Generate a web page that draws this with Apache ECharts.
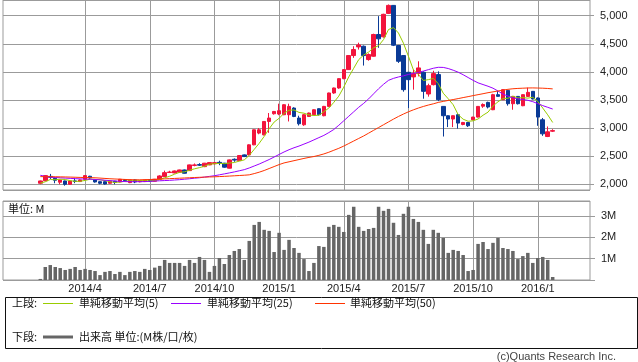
<!DOCTYPE html>
<html>
<head>
<meta charset="utf-8">
<script src="https://cdn.jsdelivr.net/npm/echarts@6/dist/echarts.min.js"></script>
<style>
html,body{margin:0;padding:0;background:#fff;}
#c{width:638px;height:362px;}
</style>
</head>
<body>
<div id="c"></div>
<script>
// weekly categories (Monday of each week)
const padBefore = ['2013-12-09','2013-12-16','2013-12-23','2013-12-30','2014-01-06','2014-01-13','2014-01-20'];
const weeks = [
'2014-01-27','2014-02-03','2014-02-10','2014-02-17','2014-02-24','2014-03-03','2014-03-10','2014-03-17','2014-03-24','2014-03-31',
'2014-04-07','2014-04-14','2014-04-21','2014-04-28','2014-05-05','2014-05-12','2014-05-19','2014-05-26','2014-06-02','2014-06-09',
'2014-06-16','2014-06-23','2014-06-30','2014-07-07','2014-07-14','2014-07-21','2014-07-28','2014-08-04','2014-08-11','2014-08-18',
'2014-08-25','2014-09-01','2014-09-08','2014-09-15','2014-09-22','2014-09-29','2014-10-06','2014-10-13','2014-10-20','2014-10-27',
'2014-11-03','2014-11-10','2014-11-17','2014-11-24','2014-12-01','2014-12-08','2014-12-15','2014-12-22','2014-12-29','2015-01-05',
'2015-01-12','2015-01-19','2015-01-26','2015-02-02','2015-02-09','2015-02-16','2015-02-23','2015-03-02','2015-03-09','2015-03-16',
'2015-03-23','2015-03-30','2015-04-06','2015-04-13','2015-04-20','2015-04-27','2015-05-04','2015-05-11','2015-05-18','2015-05-25',
'2015-06-01','2015-06-08','2015-06-15','2015-06-22','2015-06-29','2015-07-06','2015-07-13','2015-07-20','2015-07-27','2015-08-03',
'2015-08-10','2015-08-17','2015-08-24','2015-08-31','2015-09-07','2015-09-14','2015-09-21','2015-09-28','2015-10-05','2015-10-12',
'2015-10-19','2015-10-26','2015-11-02','2015-11-09','2015-11-16','2015-11-23','2015-11-30','2015-12-07','2015-12-14','2015-12-21',
'2015-12-28','2016-01-04','2016-01-11','2016-01-18'];
const padAfter = ['2016-01-25','2016-02-01','2016-02-08','2016-02-15','2016-02-22','2016-02-29','2016-03-07'];

const tickDates  = ['2014-03-31','2014-06-30','2014-09-29','2014-12-29','2015-03-30','2015-06-29','2015-09-28','2015-12-28'];
const tickLabels = ['2014/4','2014/7','2014/10','2015/1','2015/4','2015/7','2015/10','2016/1'];

const open = [2018,2064,2140,2107,2036,2059,2000,2060,2048,2089,2143,2077,2046,2046,2018,2055,2041,2080,2029,2077,
2045,2048,2077,2054,2089,2136,2210,2202,2214,2255,2243,2335,2350,2314,2345,2365,2390,2375,2286,2445,
2421,2523,2523,2702,2911,2880,3118,3255,3250,3238,3238,3357,3179,3059,3207,3238,3345,3220,3386,3625,
3714,3880,4041,4291,4445,4457,4220,4279,4666,4625,5041,5184,4470,4291,3993,3911,3970,3993,3607,3773,
3952,3386,3220,3161,3238,3064,3100,3148,3196,3390,3457,3327,3595,3505,3671,3434,3564,3398,3564,3654,
3536,3148,2850,2945];
const close = [2059,2154,2125,2071,2077,2000,2059,2050,2077,2154,2112,2041,2018,2005,2059,2035,2089,2065,2077,2041,
2060,2077,2055,2089,2148,2207,2218,2237,2255,2196,2345,2345,2340,2375,2386,2385,2380,2304,2434,2430,
2511,2493,2702,2970,2970,3118,3179,3296,3309,3416,3386,3207,3077,3238,3268,3327,3238,3386,3625,3714,
3880,4041,4291,4398,4480,4291,4309,4666,4589,5025,5184,4475,4189,3684,3862,3970,4071,3654,3755,3970,
3505,3220,3161,3220,3089,3100,3041,3196,3386,3420,3375,3595,3565,3684,3434,3564,3434,3595,3636,3518,
3196,2898,2934,2955];
const low = [2000,2055,2095,2018,2000,1975,1995,2020,2040,2085,2100,2030,2000,1995,2010,2000,2035,2050,2020,2020,
2035,2040,2040,2050,2085,2130,2200,2195,2205,2190,2240,2320,2325,2305,2340,2355,2340,2295,2280,2400,
2415,2485,2515,2695,2890,2870,2916,3240,3230,3230,3118,3195,3046,3040,3200,3230,3225,3210,3380,3610,
3700,3870,4035,4250,4398,4113,4200,4270,4429,4610,5030,4460,4160,3648,3357,3684,3920,3523,3560,3760,
3480,2850,3018,3018,2990,3050,3020,3140,3190,3360,3350,3320,3560,3500,3400,3327,3420,3390,3555,3510,
3041,2862,2840,2930];
const high = [2065,2160,2184,2112,2080,2065,2065,2110,2085,2165,2150,2080,2050,2050,2065,2060,2095,2090,2080,2085,
2070,2080,2085,2095,2160,2243,2240,2245,2260,2262,2350,2370,2375,2380,2395,2395,2420,2380,2440,2460,
2520,2530,2710,2975,3000,3125,3268,3305,3434,3425,3434,3370,3220,3250,3275,3335,3350,3395,3630,3720,
3885,4050,4300,4457,4520,4470,4330,4680,4993,5035,5200,5190,4480,4300,4000,4041,4189,4010,3790,4020,
4010,3390,3225,3225,3260,3110,3110,3200,3390,3440,3470,3610,3660,3690,3680,3570,3570,3600,3720,3660,
3545,3180,3029,2980];
// volume, millions
const volume = [0.05,0.61,0.70,0.61,0.56,0.47,0.52,0.61,0.47,0.52,0.47,0.42,0.23,0.38,0.42,0.28,0.38,0.23,0.38,0.42,
0.38,0.52,0.47,0.58,0.66,0.94,0.80,0.80,0.80,0.66,0.94,0.80,1.08,0.94,0.38,0.66,1.03,0.75,1.17,1.36,
1.45,0.94,1.83,2.58,2.72,2.35,2.30,1.31,2.21,1.41,1.88,1.50,1.27,0.98,0.42,0.80,1.59,1.55,2.49,2.58,
2.49,2.25,3.05,3.43,2.49,2.30,2.39,2.44,3.43,3.24,3.33,2.68,2.11,3.10,3.43,2.86,2.72,2.35,1.69,2.35,
2.21,1.97,1.27,1.41,1.36,1.17,0.42,0.47,1.69,1.78,1.45,1.74,1.97,1.50,1.45,1.36,0.98,1.12,1.27,0.80,
1.03,1.08,0.94,0.14];
const ma5 = [2020,2045,2085,2080,2090,2085,2065,2052,2053,2068,2090,2087,2080,2066,2047,2032,2041,2051,2065,2061,
2066,2064,2062,2064,2086,2115,2143,2180,2213,2222,2250,2275,2296,2320,2358,2366,2373,2366,2378,2387,
2412,2434,2514,2621,2729,2851,2988,3107,3174,3264,3317,3323,3279,3265,3235,3223,3230,3291,3357,3458,
3569,3729,3910,4065,4218,4300,4354,4429,4467,4576,4755,4788,4692,4511,4279,4036,3955,3848,3862,3884,
3791,3621,3522,3415,3239,3158,3122,3129,3162,3229,3284,3394,3468,3528,3531,3568,3536,3542,3533,3549,
3476,3357,3236,3100];
const ma25 = [2160,2140,2125,2120,2115,2110,2105,2100,2096,2093,2090,2085,2080,2072,2065,2058,2052,2048,2046,2046,
2046,2048,2052,2058,2062,2066,2070,2076,2082,2090,2098,2108,2116,2128,2140,2152,2168,2185,2202,2220,
2240,2260,2290,2325,2360,2400,2440,2485,2530,2575,2615,2650,2680,2715,2750,2790,2830,2870,2920,2975,
3050,3130,3210,3290,3370,3440,3520,3610,3700,3780,3850,3885,3910,3930,3955,3972,3990,4015,4040,4065,
4082,4080,4060,4030,3995,3950,3900,3850,3805,3775,3745,3710,3660,3605,3570,3540,3520,3508,3495,3470,
3435,3400,3370,3339];
const ma50 = [2136,2136,2135,2134,2132,2130,2128,2125,2122,2120,2118,2115,2110,2104,2098,2094,2090,2086,2082,2080,
2080,2082,2085,2088,2092,2096,2100,2104,2108,2112,2116,2120,2124,2127,2130,2133,2137,2141,2146,2151,
2156,2161,2168,2190,2215,2245,2280,2315,2350,2380,2400,2420,2440,2460,2478,2494,2515,2540,2570,2605,
2640,2680,2725,2770,2815,2860,2910,2960,3010,3060,3110,3160,3207,3250,3290,3325,3357,3385,3410,3432,
3457,3475,3492,3508,3525,3543,3560,3578,3595,3612,3630,3645,3660,3675,3690,3700,3706,3710,3714,3715,
3713,3710,3705,3698];

const MA5_COL = '#99cc00', MA25_COL = '#9a00ff', MA50_COL = '#ff3300', VOL_COL = '#666666';
const UP = '#f2143c', DOWN = '#0a3a96';

const categories = padBefore.concat(weeks, padAfter);
const before = padBefore.map(() => '-');
const after = padAfter.map(() => '-');
const emptyK = padBefore.map(() => ['-','-','-','-']);
const emptyK2 = padAfter.map(() => ['-','-','-','-']);
const kData = emptyK.concat(weeks.map((d, i) => [open[i], close[i], low[i], high[i]]), emptyK2);
const full = arr => before.concat(arr, after);

const isTick = (idx, val) => tickDates.indexOf(val) >= 0;
const gridCol = '#9b9b9b';
const numFont = 'Liberation Sans, Arial, sans-serif';
const jpFont = 'Noto Sans CJK JP, sans-serif';
const txt = (x, y, s, font, fill) => ({type: 'text', x: x, y: y, silent: true,
  style: {text: s, font: font || ('11px ' + jpFont), fill: fill || '#111', verticalAlign: 'middle', align: 'left'}});
const legLine = (x, y, col, w) => ({type: 'line', silent: true,
  shape: {x1: x, y1: y, x2: x + 30, y2: y}, style: {stroke: col, lineWidth: w}});

const chart = echarts.init(document.getElementById('c'), null, {renderer: 'canvas'});
chart.setOption({
  animation: false,
  backgroundColor: '#fff',
  grid: [
    {left: 3, right: 48, top: 0, height: 190, show: true, borderColor: gridCol, borderWidth: 1},
    {left: 3, right: 48, top: 201, height: 79, show: true, borderColor: gridCol, borderWidth: 1}
  ],
  xAxis: [
    {type: 'category', gridIndex: 0, data: categories, boundaryGap: true,
     axisLine: {show: false}, axisTick: {show: false}, axisLabel: {show: false},
     splitLine: {show: true, interval: isTick, alignWithLabel: true, lineStyle: {color: gridCol, width: 1}}},
    {type: 'category', gridIndex: 1, data: categories, boundaryGap: true,
     axisLine: {show: false}, axisTick: {show: false},
     axisLabel: {show: true, interval: isTick, margin: 3, color: '#222', fontSize: 11, fontFamily: numFont,
       formatter: v => { const k = tickDates.indexOf(v); return k >= 0 ? tickLabels[k] : ''; }},
     splitLine: {show: true, interval: isTick, alignWithLabel: true, lineStyle: {color: gridCol, width: 1}}}
  ],
  yAxis: [
    {type: 'value', gridIndex: 0, position: 'right', min: 1898, max: 5280, splitNumber: 7, scale: true,
     axisLine: {show: false},
     axisTick: {show: true, length: 4, lineStyle: {color: gridCol}},
     axisLabel: {margin: 10, color: '#222', fontSize: 11, fontFamily: numFont, showMinLabel: false, showMaxLabel: false,
       formatter: v => (v % 500 === 0) ? v.toLocaleString('en-US') : ''},
     splitLine: {show: true, lineStyle: {color: gridCol, width: 1}}},
    {type: 'value', gridIndex: 1, position: 'right', min: 0, max: 3.7, interval: 1,
     axisLine: {show: false},
     axisTick: {show: true, length: 5, lineStyle: {color: gridCol}},
     axisLabel: {margin: 11, color: '#222', fontSize: 11, fontFamily: numFont, showMaxLabel: false,
       formatter: v => (v >= 1 && Math.abs(v - Math.round(v)) < 1e-6) ? (Math.round(v) + 'M') : ''},
     splitLine: {show: true, lineStyle: {color: gridCol, width: 1}}}
  ],
  graphic: [
    {type: 'rect', left: 3, top: 295, silent: true, shape: {width: 632, height: 51}, style: {fill: 'none', stroke: '#111', lineWidth: 1}},
    txt(12, 303, '上段:'),
    legLine(43, 303.5, MA5_COL, 1), txt(79, 303, '単純移動平均(5)'),
    legLine(171, 303.5, MA25_COL, 1), txt(207, 303, '単純移動平均(25)'),
    legLine(315, 303.5, MA50_COL, 1), txt(350, 303, '単純移動平均(50)'),
    txt(12, 337, '下段:'),
    legLine(43, 337, VOL_COL, 3), txt(79, 337, '出来高 単位:(M株/口/枚)'),
    txt(8, 209, '単位: M'),
    {type: 'text', x: 616, y: 357, silent: true,
     style: {text: '(c)Quants Research Inc.', font: '11px ' + numFont, fill: '#444', align: 'right', verticalAlign: 'middle'}}
  ],
  series: [
    {name: '株価', type: 'candlestick', xAxisIndex: 0, yAxisIndex: 0, data: kData, barWidth: 4,
     itemStyle: {color: UP, color0: DOWN, borderColor: UP, borderColor0: DOWN, borderWidth: 1}},
    {name: '単純移動平均(5)', type: 'line', xAxisIndex: 0, yAxisIndex: 0, data: full(ma5), symbol: 'none',
     itemStyle: {color: MA5_COL}, lineStyle: {color: MA5_COL, width: 1}},
    {name: '単純移動平均(25)', type: 'line', xAxisIndex: 0, yAxisIndex: 0, data: full(ma25), symbol: 'none',
     itemStyle: {color: MA25_COL}, lineStyle: {color: MA25_COL, width: 1}},
    {name: '単純移動平均(50)', type: 'line', xAxisIndex: 0, yAxisIndex: 0, data: full(ma50), symbol: 'none',
     itemStyle: {color: MA50_COL}, lineStyle: {color: MA50_COL, width: 1}},
    {name: '出来高 単位:(M株/口/枚)', type: 'bar', xAxisIndex: 1, yAxisIndex: 1, data: full(volume), barWidth: 3.5,
     itemStyle: {color: VOL_COL}}
  ]
});
</script>
</body>
</html>
